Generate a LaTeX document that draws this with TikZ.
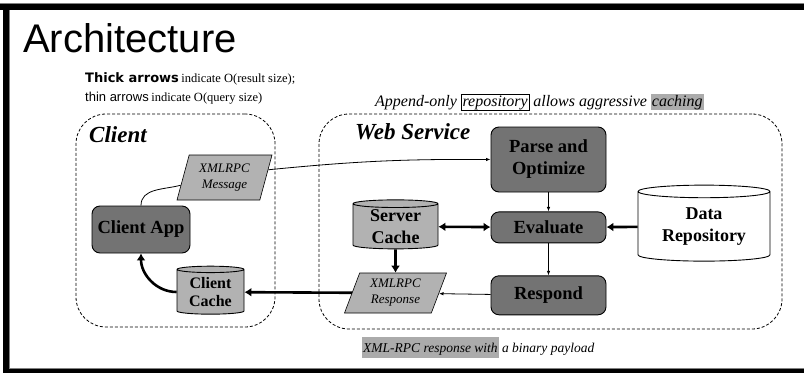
\documentclass[tikz,border=0pt]{standalone}
\usepackage{fontspec}
\setmainfont{Liberation Serif}
\setsansfont{Liberation Sans}
\newfontfamily\verdanafont{DejaVu Sans}
\usetikzlibrary{positioning,shapes.geometric,arrows.meta}

\definecolor{boxdark}{gray}{0.45}
\definecolor{boxlight}{gray}{0.70}
\definecolor{hilite}{gray}{0.67}
\setlength{\fboxsep}{1pt}
\setlength{\fboxrule}{0.6pt}
\newcommand{\fsz}[2]{\fontsize{#1}{#2}\selectfont}

\begin{document}
\begin{tikzpicture}[x=1pt, y=1pt,
    procbox/.style={rectangle, rounded corners=8pt, draw=black, line width=0.9pt, fill=boxdark, font=\fsz{18.5}{22}\bfseries, align=center, inner sep=0pt},
    store/.style={cylinder, shape border rotate=90, aspect=0.15, draw=black, line width=0.9pt, fill=boxlight, font=\fsz{18}{22}\bfseries, align=center, inner sep=0pt},
    packet/.style={trapezium, trapezium left angle=66, trapezium right angle=114, trapezium stretches body, draw=black, line width=0.6pt, fill=boxlight, font=\fsz{13}{16}\itshape, align=center, inner sep=0pt},
    region/.style={rectangle, rounded corners=30pt, draw=black, line width=0.8pt, dash pattern=on 3pt off 2pt, inner sep=0pt},
    zonetitle/.style={anchor=base west, inner sep=0pt, font=\fsz{23}{26}\bfseries\itshape},
    plaintext/.style={anchor=base west, inner sep=0pt},
    thinarrow/.style={-{Latex[length=4.5pt,width=3.5pt]}, line width=0.8pt},
    thickarrow/.style={-{Latex[length=7pt,width=9pt]}, line width=2.6pt},
    thickboth/.style={{Latex[length=7pt,width=9pt]}-{Latex[length=7pt,width=9pt]}, line width=2.6pt}]

    % Frame
    \useasboundingbox (0,0) rectangle (804,-373);
    \fill[gray] (0,-2.5) rectangle (804,-3.5);
    \fill[black] (0,-3.5) rectangle (804,-10);
    \fill[black] (3,-3.5) rectangle (9,-373);
    \fill[black] (3,-369) rectangle (804,-373);
    \draw[gray, line width=0.6pt] (9.3,-10) -- (9.3,-368.7) -- (804,-368.7);

    % Heading and notes
    \node[plaintext, font=\sffamily\fsz{40}{44}] (title) at (23,-52) {Architecture};
    \node[plaintext] (legend1) at (85,-82) {{\verdanafont\bfseries\fsz{13}{15}Thick arrows} {\fsz{12.5}{14}indicate O(result size);}};
    \node[plaintext] (legend2) at (85,-101) {{\sffamily\fsz{13}{15}thin arrows} {\fsz{12.5}{14}indicate O(query size)}};
    \node[plaintext, font=\itshape\fsz{16}{18}] (note) at (375,-106) {Append-only \fbox{repository} allows aggressive \colorbox{hilite}{caching}};
    \node[plaintext, font=\itshape\fsz{13.5}{15}] (payload) at (362,-352) {\colorbox{hilite}{\rule[-5pt]{0pt}{19pt}XML-RPC response with} a binary payload};

    % Regions
    \node[region, minimum width=199, minimum height=213] (clientzone) at (175.5,-220.5) {};
    \node[region, minimum width=463, minimum height=215] (webzone) at (550.5,-221.5) {};
    \node[zonetitle] (clientlabel) at (89,-142) {Client};
    \node[zonetitle] (weblabel) at (355,-139) {Web Service};

    % Client side
    \node[procbox, minimum width=98, minimum height=47] (clientapp) at (141,-229.5) {Client App};
    \node[packet, minimum width=95, minimum height=45] (msg) at (224.5,-177.5) {XMLRPC\\Message};
    \node[store, font=\fsz{16}{18.5}\bfseries, minimum width=67, minimum height=48] (clientcache) at (210.5,-292) {Client\\Cache};

    % Web service side
    \node[procbox, minimum width=115, minimum height=65] (parse) at (548.5,-159.5) {Parse and\\Optimize};
    \node[procbox, minimum width=115, minimum height=31, below=19pt of parse] (evaluate) {Evaluate};
    \node[procbox, minimum width=115, minimum height=39, below=32pt of evaluate] (respond) {Respond};
    \node[store, minimum width=85, minimum height=49] (servercache) at (395.5,-226.5) {Server\\Cache};
    \node[store, fill=white, minimum width=132, minimum height=76] (datarepo) at (704,-226.5) {Data\\Repository};
    \node[packet, trapezium left angle=61, trapezium right angle=119, minimum width=102, minimum height=40] (response) at (395.5,-293) {XMLRPC\\Response};

    % Connections
    \draw[line width=0.8pt] (clientapp.north) to[out=90, in=195] (msg.190);
    \draw[thinarrow] (msg.10) to[bend left=3] (parse.west);
    \draw[thinarrow] (parse) -- (evaluate);
    \draw[thinarrow] (evaluate) -- (respond);
    \draw[thickboth] (servercache) -- (evaluate);
    \draw[thickarrow] (datarepo) -- (evaluate);
    \draw[thickarrow] (servercache) -- (response);
    \draw[thinarrow] (respond) -- (response);
    \draw[thickarrow] (response) -- (clientcache);
    \draw[thickarrow] (clientcache.west) to[out=180, in=-90] (clientapp.south);
\end{tikzpicture}
\end{document}
